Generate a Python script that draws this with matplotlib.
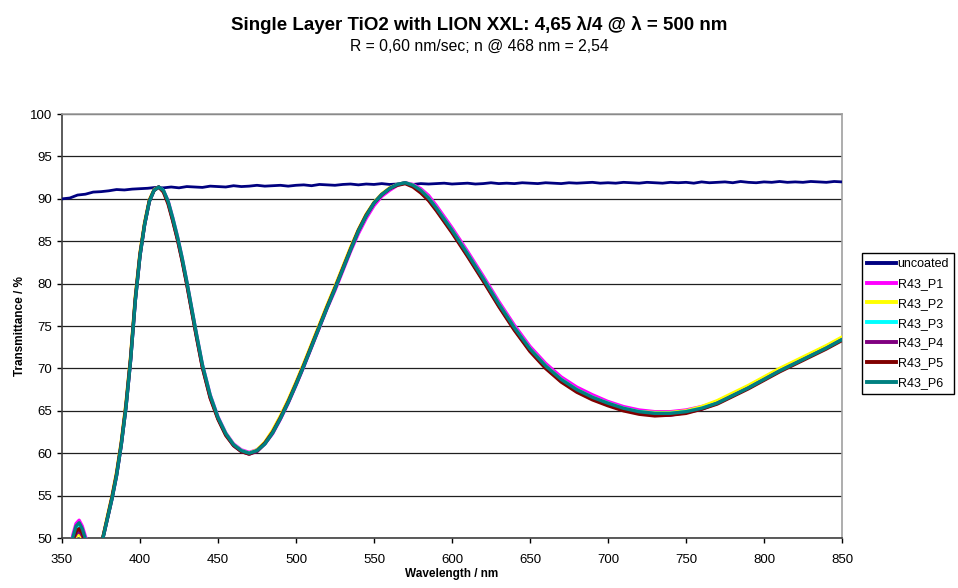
"""Transmittance spectra of a single TiO2 layer (LION XXL) vs. uncoated substrate."""

import matplotlib

matplotlib.use("Agg")
import matplotlib.pyplot as plt

plt.rcParams.update(
    {
        "font.family": ["Liberation Sans", "DejaVu Sans"],
        "font.size": 9,
    }
)

# uncoated substrate, every 5 nm
wl_uncoated = list(range(350, 851, 5))
t_uncoated = [
    90.0, 90.1, 90.45, 90.55, 90.8, 90.85, 90.95, 91.1, 91.05, 91.15,
    91.2, 91.25, 91.35, 91.3, 91.4, 91.3, 91.45, 91.4, 91.35, 91.5,
    91.45, 91.4, 91.55, 91.45, 91.5, 91.6, 91.5, 91.55, 91.6, 91.5,
    91.6, 91.65, 91.55, 91.7, 91.65, 91.6, 91.7, 91.75, 91.65, 91.75,
    91.7, 91.8, 91.7, 91.75, 91.8, 91.7, 91.8, 91.75, 91.8, 91.85,
    91.75, 91.8, 91.85, 91.75, 91.8, 91.9, 91.8, 91.85, 91.8, 91.9,
    91.85, 91.8, 91.9, 91.85, 91.8, 91.9, 91.85, 91.9, 91.95, 91.85,
    91.9, 91.85, 91.95, 91.9, 91.85, 91.95, 91.9, 91.85, 91.95, 91.9,
    91.95, 91.85, 92.0, 91.9, 91.95, 92.0, 91.9, 92.05, 91.95, 91.9,
    92.0, 91.95, 92.05, 91.95, 92.0, 91.95, 92.05, 92.0, 91.95, 92.05,
    92.0,
]

# coated samples
wl_coated = [
    350, 354, 357, 359, 361, 363, 365, 367, 370, 373,
    376, 379, 382, 385, 388, 391, 394, 397, 400, 403,
    406, 409, 412, 415, 418, 421, 424, 427, 430, 433,
    436, 440, 445, 450, 455, 460, 465, 470, 475, 480,
    485, 490, 495, 500, 505, 510, 515, 520, 525, 530,
    535, 540, 545, 550, 555, 560, 565, 570, 575, 580,
    585, 590, 595, 600, 610, 620, 630, 640, 650, 660,
    670, 680, 690, 700, 710, 720, 730, 740, 750, 760,
    770, 780, 790, 800, 810, 820, 830, 840, 850,
]
t_p1 = [
    44.2, 47.3, 50.4, 51.7, 52.1, 51.4, 50.2, 48.9, 47.8, 48.1,
    49.8, 52.2, 54.6, 57.4, 61.0, 65.4, 71.0, 78.0, 83.3, 87.0,
    89.7, 91.0, 91.4, 91.0, 89.8, 87.8, 85.6, 83.1, 80.3, 77.3,
    74.3, 70.5, 66.9, 64.3, 62.4, 61.1, 60.4, 60.1, 60.4, 61.1,
    62.3, 64.0, 65.9, 68.0, 70.2, 72.5, 74.8, 77.1, 79.2, 81.5,
    83.8, 85.9, 87.7, 89.2, 90.3, 91.0, 91.6, 91.9, 91.7, 91.2,
    90.4, 89.2, 87.9, 86.6, 83.8, 80.9, 77.9, 75.1, 72.6, 70.6,
    69.0, 67.8, 66.9, 66.1, 65.5, 65.1, 64.9, 64.9, 65.1, 65.5,
    66.0, 66.9, 67.8, 68.8, 69.8, 70.7, 71.6, 72.5, 73.5,
]
t_p2 = [
    43.5, 46.6, 49.5, 50.2, 50.5, 50.0, 49.0, 48.2, 47.5, 48.0,
    49.9, 52.5, 54.9, 57.8, 61.4, 65.9, 71.5, 78.5, 83.7, 87.3,
    89.9, 91.1, 91.4, 90.9, 89.6, 87.6, 85.4, 82.9, 80.1, 77.1,
    74.1, 70.3, 66.7, 64.1, 62.3, 61.0, 60.3, 60.0, 60.4, 61.3,
    62.7, 64.4, 66.3, 68.4, 70.6, 72.9, 75.2, 77.5, 79.7, 82.0,
    84.3, 86.4, 88.2, 89.6, 90.6, 91.3, 91.7, 91.9, 91.6, 91.0,
    90.1, 88.9, 87.6, 86.3, 83.5, 80.6, 77.6, 74.8, 72.3, 70.3,
    68.7, 67.5, 66.6, 65.9, 65.3, 64.9, 64.8, 64.8, 65.0, 65.5,
    66.2, 67.1, 68.0, 69.0, 70.0, 70.9, 71.8, 72.7, 73.7,
]
t_p3 = [
    43.9, 46.9, 50.0, 51.2, 51.5, 50.9, 49.8, 48.6, 47.7, 48.1,
    49.8, 52.2, 54.6, 57.4, 61.0, 65.4, 71.0, 78.0, 83.3, 87.0,
    89.7, 91.0, 91.4, 91.0, 89.7, 87.7, 85.5, 83.0, 80.2, 77.2,
    74.2, 70.4, 66.8, 64.2, 62.3, 61.0, 60.3, 60.0, 60.3, 61.1,
    62.4, 64.1, 66.0, 68.1, 70.3, 72.6, 74.9, 77.2, 79.4, 81.7,
    84.0, 86.2, 88.0, 89.5, 90.5, 91.2, 91.7, 91.9, 91.6, 91.0,
    90.1, 88.9, 87.6, 86.3, 83.5, 80.6, 77.6, 74.8, 72.3, 70.3,
    68.7, 67.5, 66.6, 65.9, 65.3, 64.9, 64.7, 64.7, 64.9, 65.3,
    65.9, 66.8, 67.7, 68.7, 69.7, 70.6, 71.5, 72.4, 73.4,
]
t_p4 = [
    43.6, 46.7, 49.7, 50.5, 50.8, 50.3, 49.4, 48.4, 47.6, 48.0,
    49.8, 52.2, 54.6, 57.4, 61.0, 65.4, 71.0, 78.0, 83.3, 87.0,
    89.7, 91.0, 91.4, 90.9, 89.6, 87.5, 85.3, 82.8, 80.0, 77.0,
    74.0, 70.2, 66.6, 64.1, 62.2, 60.9, 60.2, 59.9, 60.2, 61.1,
    62.4, 64.1, 66.0, 68.1, 70.3, 72.6, 74.9, 77.2, 79.4, 81.7,
    84.0, 86.2, 88.0, 89.5, 90.5, 91.2, 91.7, 91.9, 91.5, 90.8,
    89.9, 88.7, 87.4, 86.1, 83.3, 80.4, 77.4, 74.6, 72.1, 70.1,
    68.5, 67.3, 66.4, 65.7, 65.1, 64.7, 64.5, 64.5, 64.8, 65.2,
    65.9, 66.8, 67.7, 68.7, 69.7, 70.6, 71.5, 72.4, 73.4,
]
t_p5 = [
    43.7, 46.8, 49.8, 50.8, 51.1, 50.6, 49.6, 48.5, 47.6, 48.0,
    49.9, 52.3, 54.8, 57.6, 61.2, 65.7, 71.3, 78.3, 83.5, 87.1,
    89.8, 91.0, 91.4, 90.8, 89.4, 87.4, 85.2, 82.7, 79.9, 76.9,
    73.9, 70.1, 66.5, 64.0, 62.1, 60.9, 60.2, 59.9, 60.3, 61.2,
    62.5, 64.2, 66.1, 68.2, 70.4, 72.7, 75.0, 77.3, 79.5, 81.8,
    84.1, 86.3, 88.1, 89.5, 90.5, 91.2, 91.6, 91.8, 91.4, 90.7,
    89.8, 88.6, 87.3, 86.0, 83.2, 80.3, 77.3, 74.5, 72.0, 70.0,
    68.4, 67.2, 66.3, 65.6, 65.0, 64.6, 64.4, 64.5, 64.7, 65.2,
    65.8, 66.7, 67.6, 68.6, 69.6, 70.5, 71.4, 72.3, 73.3,
]
t_p6 = [
    44.0, 47.0, 50.1, 51.4, 51.8, 51.1, 49.9, 48.7, 47.7, 48.1,
    49.8, 52.2, 54.6, 57.4, 61.0, 65.4, 71.0, 78.0, 83.3, 87.0,
    89.7, 91.0, 91.4, 91.0, 89.7, 87.7, 85.5, 83.0, 80.2, 77.2,
    74.2, 70.4, 66.8, 64.2, 62.3, 61.0, 60.3, 60.0, 60.3, 61.1,
    62.4, 64.1, 66.0, 68.1, 70.3, 72.6, 74.9, 77.2, 79.4, 81.7,
    84.0, 86.2, 88.0, 89.5, 90.5, 91.2, 91.7, 91.9, 91.6, 91.0,
    90.1, 88.9, 87.6, 86.3, 83.5, 80.6, 77.6, 74.8, 72.3, 70.3,
    68.7, 67.5, 66.6, 65.9, 65.3, 64.9, 64.7, 64.7, 64.9, 65.3,
    65.9, 66.8, 67.7, 68.7, 69.7, 70.6, 71.5, 72.4, 73.4,
]

sample_names = ["R43_P1", "R43_P2", "R43_P3", "R43_P4", "R43_P5", "R43_P6"]
sample_colors = ["#FF00FF", "#FFFF00", "#00FFFF", "#800080", "#800000", "#008080"]
sample_values = [t_p1, t_p2, t_p3, t_p4, t_p5, t_p6]

x_ticks = list(range(350, 851, 50))
y_ticks = list(range(50, 101, 5))

fig = plt.figure(figsize=(9.58, 5.88), dpi=100)
ax = fig.add_axes([0.0647, 0.085, 0.8142, 0.721])

ax.plot(wl_uncoated, t_uncoated, color="#000080", linewidth=2.0, label="uncoated",
        zorder=3)
for name, color, values in zip(sample_names, sample_colors, sample_values):
    ax.plot(wl_coated, values, color=color, linewidth=2.4, label=name, zorder=3)

ax.set_xlim(350, 850)
ax.set_ylim(50, 100)
ax.set_xticks(x_ticks)
ax.set_yticks(y_ticks)
ax.grid(axis="y", color="#202020", linewidth=0.9)
ax.set_axisbelow(True)
ax.tick_params(direction="out", length=3.5, width=1.0, labelsize=9.5, colors="#000000")
ax.tick_params(axis="x", pad=8)
ax.tick_params(axis="y", pad=3.5)
for side in ("top", "right"):
    ax.spines[side].set_color("#A0A0A0")
    ax.spines[side].set_linewidth(1.2)
for side in ("left", "bottom"):
    ax.spines[side].set_color("#404040")
    ax.spines[side].set_linewidth(1.2)

ax.set_xlabel("Wavelength / nm", fontsize=8.5, fontweight="bold")
ax.set_ylabel("Transmittance / %", fontsize=8.5, fontweight="bold")
ax.xaxis.set_label_coords(0.5, -0.071)
ax.yaxis.set_label_coords(-0.046, 0.5)

fig.text(0.5, 1 - 25 / 588, "Single Layer TiO2 with LION XXL: 4,65 λ/4 @ λ = 500 nm",
         ha="center", va="center", fontsize=13.5, fontweight="bold")
fig.text(0.5, 1 - 46 / 588, "R = 0,60 nm/sec; n @ 468 nm = 2,54",
         ha="center", va="center", fontsize=11.3)

legend = fig.legend(
    loc="upper left",
    bbox_to_anchor=(862 / 958, 1 - 253 / 588),
    fontsize=9,
    frameon=True,
    fancybox=False,
    framealpha=1,
    edgecolor="#000000",
    handlelength=2.3,
    handletextpad=0.15,
    labelspacing=0.63,
    borderpad=0.4,
    borderaxespad=0,
)
legend.get_frame().set_linewidth(1.0)
for line in legend.get_lines():
    line.set_linewidth(2.8)

fig.savefig("out.png", dpi=100)
